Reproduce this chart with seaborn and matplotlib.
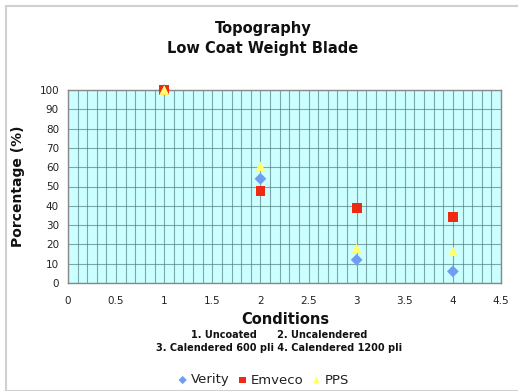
import matplotlib
matplotlib.use("Agg")
import matplotlib.pyplot as plt
import seaborn as sns
import pandas as pd
from matplotlib.ticker import MultipleLocator
from matplotlib.patches import FancyBboxPatch

conditions = [1, 2, 3, 4]
verity = [100, 54, 12, 6]
emveco = [100, 47.5, 39, 34]
pps = [100, 60.5, 18, 16.5]
series_names = ["Verity", "Emveco", "PPS"]

df = pd.concat([
    pd.DataFrame({"Conditions": conditions, "Percentage": verity, "Series": "Verity"}),
    pd.DataFrame({"Conditions": conditions, "Percentage": emveco, "Series": "Emveco"}),
    pd.DataFrame({"Conditions": conditions, "Percentage": pps, "Series": "PPS"}),
], ignore_index=True)

sns.set_theme(style="white")
plt.rcParams['font.family'] = ['DejaVu Sans']
plt.rcParams['text.color'] = '#111111'

fig = plt.figure(figsize=(5.18, 3.91), dpi=100)
ax = fig.add_axes([68/518, 1-283/391, (501-68)/518, (283-90)/391])

palette = {"Verity": "#6f9ef0", "Emveco": "#ee2a12", "PPS": "#ffff70"}
markers = {"Verity": "D", "Emveco": "s", "PPS": "^"}
sizes_map = {"Verity": 36, "Emveco": 50, "PPS": 50}

for name in series_names:
    sub = df[df["Series"] == name]
    sns.scatterplot(data=sub, x="Conditions", y="Percentage", ax=ax,
                    color=palette[name], marker=markers[name], s=sizes_map[name],
                    edgecolor="none", label=name, zorder=3, clip_on=False)

ax.set_facecolor("#ccffff")
ax.set_xlim(0, 4.5)
ax.set_ylim(0, 100)
ax.xaxis.set_minor_locator(MultipleLocator(0.1))
ax.yaxis.set_major_locator(MultipleLocator(10))
ax.set_xticks([0, 0.5, 1, 1.5, 2, 2.5, 3, 3.5, 4, 4.5])
ax.set_xticklabels(["0", "0.5", "1", "1.5", "2", "2.5", "3", "3.5", "4", "4.5"])
ax.grid(True, which="both", axis="x", color="#4f7a7a", linewidth=0.8, alpha=0.65)
ax.grid(True, which="major", axis="y", color="#4f7a7a", linewidth=0.8, alpha=0.65)
ax.set_axisbelow(True)
for sp in ax.spines.values():
    sp.set_color("#888888")
    sp.set_linewidth(1.0)
ax.tick_params(axis="both", which="major", labelsize=7.5, colors="#222222", length=3,
               color="#888888", direction="out")
ax.tick_params(axis="both", which="minor", length=0)
ax.tick_params(axis="x", pad=6)
ax.set_xlabel("")
ax.set_ylabel("Porcentage (%)", fontsize=10, fontweight="bold", labelpad=10, color="#111111")

fig.text(263/518, 1-28/391, "Topography", ha="center", va="center", fontsize=10.5, fontweight="bold")
fig.text(263/518, 1-49/391, "Low Coat Weight Blade", ha="center", va="center", fontsize=10.5, fontweight="bold")
fig.text(285/518, 1-320/391, "Conditions", ha="center", va="center", fontsize=10.5, fontweight="bold")
fig.text(279/518, 1-335/391, "1. Uncoated      2. Uncalendered", ha="center", va="center", fontsize=7, fontweight="bold")
fig.text(279/518, 1-348/391, "3. Calendered 600 pli 4. Calendered 1200 pli", ha="center", va="center", fontsize=7, fontweight="bold")

leg = ax.legend(loc="center", bbox_to_anchor=(263/518, 1-380/391), bbox_transform=fig.transFigure,
                ncol=3, frameon=False, fontsize=9.5, handletextpad=0.2, columnspacing=0.6,
                handlelength=0.8, markerscale=0.7, borderpad=0)
for t in leg.get_texts():
    t.set_color("#222222")

fig.patches.append(FancyBboxPatch((6/518, 0.0), 520/518, 1-6/391, boxstyle="square,pad=0",
                                  transform=fig.transFigure, fill=False, edgecolor="#d0d0d0",
                                  linewidth=1.5))

fig.savefig("out.png", dpi=100)
